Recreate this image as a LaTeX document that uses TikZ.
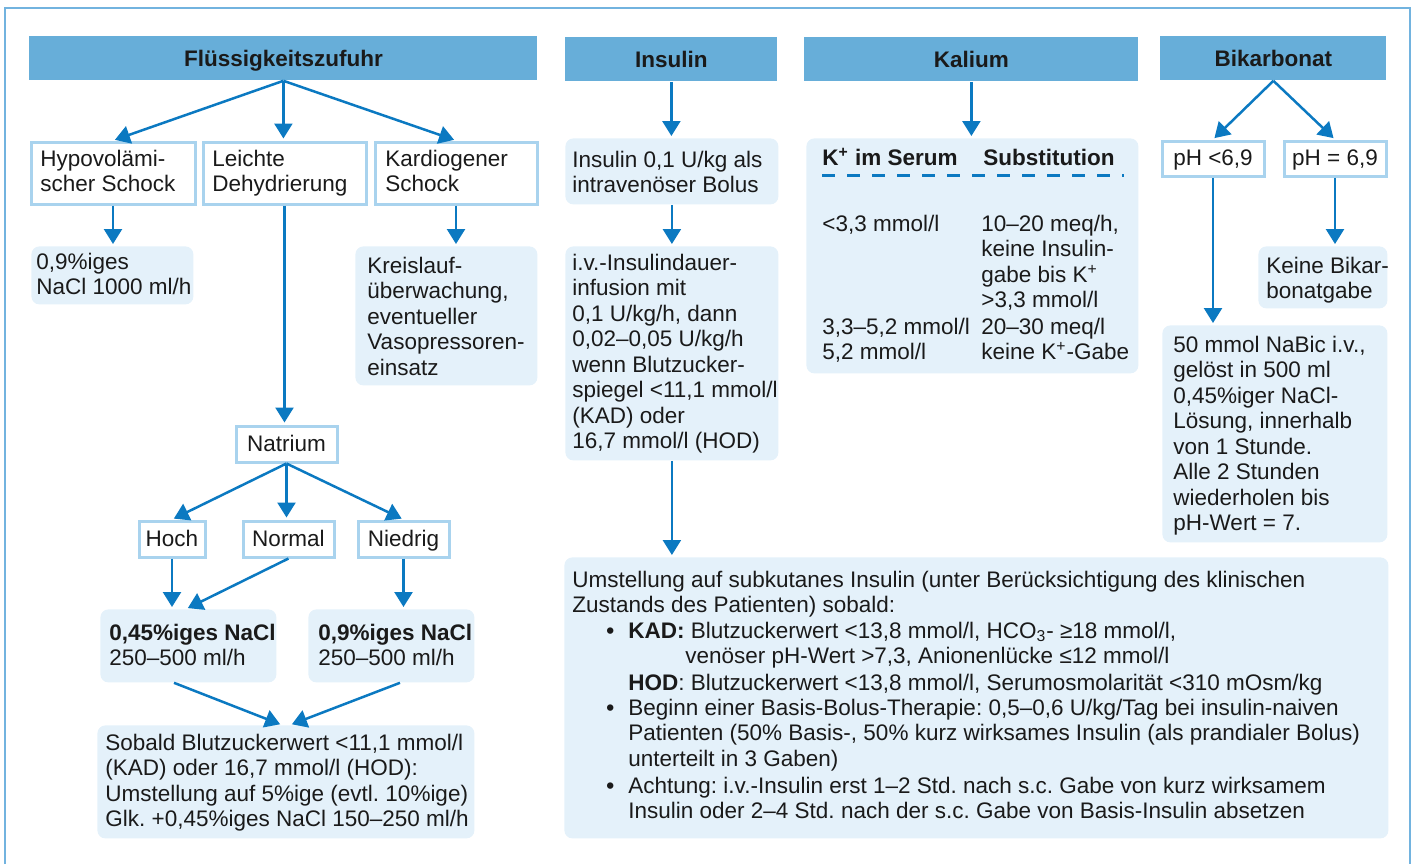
\documentclass[tikz,border=0pt]{standalone}
\usepackage{fontspec}
\setmainfont{Liberation Sans}
\usetikzlibrary{arrows.meta}
\frenchspacing
\definecolor{hdr}{HTML}{67AED9}
\definecolor{lfill}{HTML}{E4F1FA}
\definecolor{obord}{HTML}{A9D3EE}
\definecolor{arrc}{HTML}{0B79C1}
\definecolor{framec}{HTML}{72B3DF}
\definecolor{txtc}{HTML}{1A1A1A}
\newcommand{\bodyfont}{\fontsize{11.25}{12.75}\selectfont\frenchspacing}
\newcommand{\myst}{\rule{0pt}{10pt}}
\tikzset{
  hdrbox/.style={fill=hdr, anchor=north west, inner sep=0pt, font=\bodyfont\bfseries, text=txtc, text height=8pt, text depth=0pt},
  obox/.style={draw=obord, line width=1.5pt, fill=white, anchor=north west, inner sep=0pt, text height=8pt, text depth=1pt, font=\bodyfont, text=txtc},
  lbox/.style={fill=lfill, rounded corners=4pt, anchor=north west, inner sep=0pt},
  txt/.style={anchor=north west, inner sep=0pt, align=left, font=\bodyfont, text=txtc},
  arr/.style={draw=arrc, line width=1.25pt, -{Triangle[width=9pt,length=7.5pt]}, shorten >=1pt},
}
\begin{document}
\begin{tikzpicture}[x=0.5pt,y=-0.5pt]
\useasboundingbox (0,0) rectangle (1415,864);
% outer frame
\draw[framec, line width=0.8pt] (5,864) -- (5,8) -- (1410,8) -- (1410,864);

% headers
\node[hdrbox, minimum width=254pt, minimum height=22pt] (h1) at (29,36) {Flüssigkeitszufuhr};
\node[hdrbox, minimum width=106pt, minimum height=22pt] (h2) at (565,37) {Insulin};
\node[hdrbox, minimum width=167pt, minimum height=22pt] (h3) at (804,37) {Kalium};
\node[hdrbox, minimum width=113pt, minimum height=22pt] (h4) at (1160,36) {Bikarbonat};

% Flüssigkeitszufuhr column
\node[obox, minimum width=82pt, minimum height=31pt] (hypo) at (29.5,140.5) {};
\node[obox, minimum width=81.5pt, minimum height=31pt] (dehyd) at (201.5,140.5) {};
\node[obox, minimum width=81pt, minimum height=31pt] (kard) at (373.5,140.5) {};
\node[txt] (hypoT) at (40,146) {\myst Hypovolämi-\\scher Schock};
\node[txt] (dehydT) at (212,146) {\myst Leichte\\Dehydrierung};
\node[txt] (kardT) at (385,146) {\myst Kardiogener\\Schock};

\node[lbox, minimum width=81pt, minimum height=29pt] (nacl1) at (31,246) {};
\node[txt] (nacl1T) at (36,249) {\myst 0,9\%iges\\NaCl 1000 ml/h};
\node[lbox, minimum width=91pt, minimum height=69.5pt] (kreis) at (355,246) {};
\node[txt] (kreisT) at (367,253) {\myst Kreislauf-\\überwachung,\\eventueller\\Vasopressoren-\\einsatz};

\node[obox, minimum width=50.5pt, minimum height=18pt] (natrium) at (234.5,424.5) {Natrium};
\node[obox, minimum width=33pt, minimum height=18pt] (hoch) at (137.5,519.5) {Hoch};
\node[obox, minimum width=45.5pt, minimum height=18pt] (normal) at (241.5,519.5) {Normal};
\node[obox, minimum width=45.5pt, minimum height=18pt] (niedrig) at (356.5,519.5) {Niedrig};

\node[lbox, minimum width=88pt, minimum height=36.5pt] (nacl045) at (100,609) {};
\node[txt] (nacl045T) at (109,620) {\myst\textbf{0,45\%iges NaCl}\\250–500 ml/h};
\node[lbox, minimum width=83pt, minimum height=36.5pt] (nacl09) at (308,609) {};
\node[txt] (nacl09T) at (318,620) {\myst\textbf{0,9\%iges NaCl}\\250–500 ml/h};

\node[lbox, minimum width=188.5pt, minimum height=56.5pt] (sobald) at (97,725) {};
\node[txt] (sobaldT) at (105,730) {\myst Sobald Blutzuckerwert <11,1 mmol/l\\(KAD) oder 16,7 mmol/l (HOD):\\Umstellung auf 5\%ige (evtl. 10\%ige)\\Glk. +0,45\%iges NaCl 150–250 ml/h};

% Insulin column
\node[lbox, minimum width=106.5pt, minimum height=33pt] (ins1) at (565,138) {};
\node[txt] (ins1T) at (572,147) {\myst Insulin 0,1 U/kg als\\intravenöser Bolus};
\node[lbox, minimum width=106.5pt, minimum height=107pt] (ins2) at (565,246) {};
\node[txt] (ins2T) at (572,250) {\myst i.v.-Insulindauer-\\infusion mit\\0,1 U/kg/h, dann\\0,02–0,05 U/kg/h\\wenn Blutzucker-\\spiegel <11,1 mmol/l\\(KAD) oder\\16,7 mmol/l (HOD)};

\node[lbox, minimum width=412pt, minimum height=140.5pt] (subk) at (564,557) {};
\node[txt] (subkT) at (572,567) {\myst Umstellung auf subkutanes Insulin (unter Berücksichtigung des klinischen\\Zustands des Patienten) sobald:};
\node[txt] (b1) at (606,618) {\myst\textbf{•}};
\node[txt] (kadT) at (628,618) {\myst\textbf{KAD:} Blutzuckerwert <13,8 mmol/l, HCO\textsubscript{3}- ≥18 mmol/l,};
\node[txt] (kad2T) at (685,643) {\myst venöser pH-Wert >7,3, Anionenlücke ≤12 mmol/l};
\node[txt] (hodT) at (628,670) {\myst\textbf{HOD}: Blutzuckerwert <13,8 mmol/l, Serumosmolarität <310 mOsm/kg};
\node[txt] (b2) at (606,695) {\myst\textbf{•}};
\node[txt] (basisT) at (628,695) {\myst Beginn einer Basis-Bolus-Therapie: 0,5–0,6 U/kg/Tag bei insulin-naiven\\Patienten (50\% Basis-, 50\% kurz wirksames Insulin (als prandialer Bolus)\\unterteilt in 3 Gaben)};
\node[txt] (b3) at (606,773) {\myst\textbf{•}};
\node[txt] (achtT) at (628,773) {\myst Achtung: i.v.-Insulin erst 1–2 Std. nach s.c. Gabe von kurz wirksamem\\Insulin oder 2–4 Std. nach der s.c. Gabe von Basis-Insulin absetzen};

% Kalium column
\node[lbox, minimum width=166pt, minimum height=117.5pt] (kal) at (806,138) {};
\node[txt] (kh1) at (822,145) {\myst\textbf{K\textsuperscript{+} im Serum}};
\node[txt] (kh2) at (983,145) {\myst\textbf{Substitution}};
\draw[arrc, line width=1.5pt, dash pattern=on 6.5pt off 6pt] (822,175) -- (1124,175);
\node[txt] (kl1) at (822,211) {\myst <3,3 mmol/l};
\node[txt] (kr1) at (981,211) {\myst 10–20 meq/h,\\keine Insulin-\\gabe bis K\textsuperscript{+}\\>3,3 mmol/l};
\node[txt] (kl2) at (822,314) {\myst 3,3–5,2 mmol/l\\5,2 mmol/l};
\node[txt] (kr2) at (981,314) {\myst 20–30 meq/l\\keine K\textsuperscript{+}-Gabe};

% Bikarbonat column
\node[obox, minimum width=51pt, minimum height=17.5pt] (ph1) at (1160.5,139.5) {pH <6,9};
\node[obox, minimum width=51pt, minimum height=17.5pt] (ph2) at (1282.5,139.5) {pH = 6,9};
\node[lbox, minimum width=64.5pt, minimum height=31pt] (keine) at (1258,246) {};
\node[txt] (keineT) at (1266,253) {\myst Keine Bikar-\\bonatgabe};
\node[lbox, minimum width=112.5pt, minimum height=108.5pt] (nabic) at (1162,325) {};
\node[txt] (nabicT) at (1173,332) {\myst 50 mmol NaBic i.v.,\\gelöst in 500 ml\\0,45\%iger NaCl-\\Lösung, innerhalb\\von 1 Stunde.\\Alle 2 Stunden\\wiederholen bis\\pH-Wert = 7.};

% connectors
\draw[arr] (h1.south) -- (hypo.north);
\draw[arr] (h1.south) -- (h1.south |- dehyd.north);
\draw[arr] (h1.south) -- (kard.north);
\draw[arr] (hypo.south) -- (hypo.south |- nacl1.north);
\draw[arr] (kard.south) -- (kard.south |- kreis.north);
\draw[arr] (dehyd.south) -- (dehyd.south |- natrium.north);
\draw[arr] (natrium.south) -- (hoch.north);
\draw[arr] (natrium.south) -- (natrium.south |- normal.north);
\draw[arr] (natrium.south) -- (niedrig.north);
\draw[arr] (hoch.south) -- (hoch.south |- nacl045.north);
\draw[arr] (normal.south) -- ([xshift=43pt]nacl045.north west);
\draw[arr] (niedrig.south) -- (niedrig.south |- nacl09.north);
\draw[arr] ([xshift=37pt]nacl045.south west) -- ([xshift=92.5pt]sobald.north west);
\draw[arr] ([xshift=46pt]nacl09.south west) -- ([xshift=96.5pt]sobald.north west);

\draw[arr] (h2.south) -- (h2.south |- ins1.north);
\draw[arr] (ins1.south) -- (ins1.south |- ins2.north);
\draw[arr] (ins2.south) -- (ins2.south |- subk.north);

\draw[arr] (h3.south) -- (h3.south |- kal.north);

\draw[arr] (h4.south) -- (ph1.north);
\draw[arr] (h4.south) -- (ph2.north);
\draw[arr] (ph1.south) -- (ph1.south |- nabic.north);
\draw[arr] (ph2.south) -- (ph2.south |- keine.north);
\end{tikzpicture}
\end{document}
